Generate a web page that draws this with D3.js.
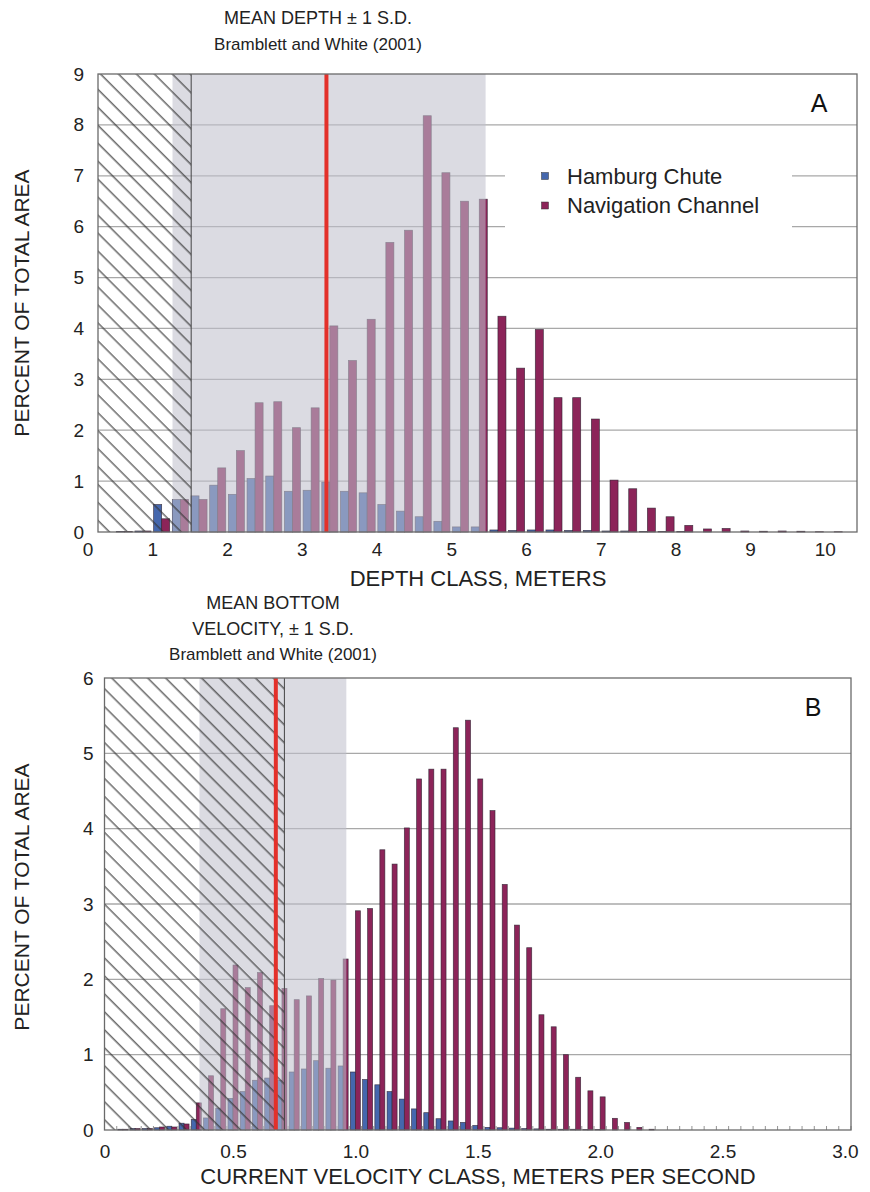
<!DOCTYPE html>
<html>
<head>
<meta charset="utf-8">
<script src="https://cdn.jsdelivr.net/npm/d3@7"></script>
<style>
body { margin: 0; background: #fff; }
svg { display: block; font-family: "Liberation Sans", Arial, sans-serif; }
</style>
</head>
<body>
<script>
// ---- panel A: depth classes, lower edge of each 0.25 m bin ----
const depthClass = [0.5, 0.75, 1.0, 1.25, 1.5, 1.75, 2.0, 2.25, 2.5, 2.75, 3.0, 3.25, 3.5, 3.75,
    4.0, 4.25, 4.5, 4.75, 5.0, 5.25, 5.5, 5.75, 6.0, 6.25, 6.5, 6.75, 7.0, 7.25, 7.5, 7.75,
    8.0, 8.25, 8.5, 8.75, 9.0, 9.25, 9.5, 9.75, 10.0]
const depthHamburg = [0.01, 0.02, 0.54, 0.64, 0.71, 0.92, 0.74, 1.05, 1.10, 0.80, 0.82, 0.98, 0.80, 0.77,
    0.54, 0.41, 0.30, 0.21, 0.10, 0.10, 0.04, 0.03, 0.04, 0.04, 0.03, 0.03, 0.02, 0.02, 0.01, 0.01,
    0.01, 0, 0, 0, 0, 0, 0, 0, 0]
const depthNav = [0.01, 0.02, 0.26, 0.64, 0.64, 1.26, 1.60, 2.54, 2.56, 2.05, 2.44, 4.05, 3.37, 4.18,
    5.69, 5.93, 8.18, 7.06, 6.50, 6.54, 4.24, 3.22, 3.98, 2.64, 2.64, 2.22, 1.02, 0.85, 0.47, 0.30,
    0.13, 0.06, 0.07, 0.02, 0.015, 0.02, 0.015, 0.006, 0.006]
const depthTicks = [0, 1, 2, 3, 4, 5, 6, 7, 8, 9, 10]
const depthRef = [3.33, 1.27, 5.46]   // mean, mean - 1 s.d., mean + 1 s.d.
const depthCutoff = 1.52

// ---- panel B: velocity classes, centre of each 0.05 m/s bin ----
const velClass = [0, 0.05, 0.1, 0.15, 0.2, 0.25, 0.3, 0.35, 0.4, 0.45, 0.5, 0.55, 0.6, 0.65, 0.7,
    0.75, 0.8, 0.85, 0.9, 0.95, 1.0, 1.05, 1.1, 1.15, 1.2, 1.25, 1.3, 1.35, 1.4, 1.45, 1.5,
    1.55, 1.6, 1.65, 1.7, 1.75, 1.8, 1.85, 1.9, 1.95, 2.0, 2.05, 2.1, 2.15, 2.2, 2.25, 2.3,
    2.35, 2.4, 2.45, 2.5, 2.55, 2.6, 2.65, 2.7, 2.75, 2.8, 2.85, 2.9, 2.95, 3.0]
const velHamburg = [0, 0.01, 0.02, 0.02, 0.03, 0.05, 0.09, 0.14, 0.16, 0.29, 0.42, 0.51, 0.66, 0.69, 0.66,
    0.77, 0.81, 0.92, 0.82, 0.85, 0.77, 0.67, 0.60, 0.51, 0.41, 0.28, 0.23, 0.15, 0.12, 0.10, 0.06,
    0.035, 0.03, 0.025, 0.02, 0.015, 0.01, 0.01, 0.01, 0.005, 0.005, 0, 0, 0, 0, 0, 0,
    0, 0, 0, 0, 0, 0, 0, 0, 0, 0, 0, 0, 0, 0]
const velNav = [0, 0.01, 0.02, 0.02, 0.04, 0.04, 0.08, 0.36, 0.72, 1.61, 2.19, 1.89, 2.09, 1.65, 1.88,
    1.73, 1.78, 2.01, 1.99, 2.27, 2.91, 2.94, 3.72, 3.53, 4.01, 4.66, 4.79, 4.79, 5.34, 5.44, 4.66,
    4.24, 3.26, 2.72, 2.42, 1.53, 1.37, 1.00, 0.70, 0.52, 0.44, 0.155, 0.10, 0.035, 0.01, 0, 0,
    0, 0, 0, 0, 0, 0, 0, 0, 0, 0, 0, 0, 0, 0]
const velTicks = [0, 0.5, 1.0, 1.5, 2.0, 2.5, 3.0]
const velRef = [0.675, 0.363, 0.963]
const velCutoff = 0.71

const seriesNames = ['Hamburg Chute', 'Navigation Channel']
const colors = ['#4567ad', '#8c2459']

const svg = d3.select('body').append('svg')
    .attr('width', 870)
    .attr('height', 1192)

// diagonal hatch for the shallow / slow zone
svg.append('defs').append('pattern')
    .attr('id', 'hatch')
    .attr('patternUnits', 'userSpaceOnUse')
    .attr('width', 12.7).attr('height', 12.7)
    .attr('patternTransform', 'rotate(-45)')
    .append('line')
    .attr('x1', 6).attr('y1', 0).attr('x2', 6).attr('y2', 12.7)
    .attr('stroke', '#333').attr('stroke-width', 1.1)

function panel(o) {
    const x = d3.scaleLinear().domain(o.xDomain).range([o.left, o.right])
    const y = d3.scaleLinear().domain([0, o.yMax]).range([o.bottom, o.top])
    const g = svg.append('g')
    const bw = (x(o.step) - x(0)) * o.barFrac

    // gridlines
    g.selectAll('line.grid').data(d3.range(1, o.yMax)).join('line')
        .attr('class', 'grid')
        .attr('x1', o.left).attr('x2', o.right)
        .attr('y1', d => y(d)).attr('y2', d => y(d))
        .attr('stroke', '#a8a8a8').attr('stroke-width', 1.3)

    if (o.legend) {
        g.append('rect').attr('x', 505).attr('y', 140).attr('width', 287).attr('height', 122)
            .attr('fill', '#fff')
    }

    // bars: hamburg chute left of the class centre, navigation channel right
    const rows = o.cats.map((c, i) => ({ c: c + o.shift, v: [o.hamburg[i], o.nav[i]] }))
    ;[0, 1].forEach(s => {
        g.selectAll(`rect.s${s}`).data(rows.filter(d => d.v[s] > 0)).join('rect')
            .attr('class', `s${s}`)
            .attr('x', d => s === 0 ? x(d.c) - bw : x(d.c))
            .attr('width', bw)
            .attr('y', d => y(d.v[s]))
            .attr('height', d => o.bottom - y(d.v[s]))
            .attr('fill', colors[s])
            .attr('stroke', '#2c2030').attr('stroke-width', 0.7).attr('stroke-opacity', 0.8)
    })

    if (o.minorTicks) {
        g.selectAll('line.minor').data(o.cats).join('line')
            .attr('class', 'minor')
            .attr('x1', d => x(d + o.step / 2)).attr('x2', d => x(d + o.step / 2))
            .attr('y1', o.bottom).attr('y2', o.bottom - 4)
            .attr('stroke', '#777').attr('stroke-width', 0.8)
    }

    // mean +/- 1 s.d. band
    g.append('rect')
        .attr('x', x(o.ref[1])).attr('width', x(o.ref[2]) - x(o.ref[1]))
        .attr('y', o.top).attr('height', o.bottom - o.top)
        .attr('fill', 'rgb(192,192,204)').attr('fill-opacity', 0.57)

    // hatched zone
    g.append('rect')
        .attr('x', o.left).attr('width', x(o.cutoff) - o.left)
        .attr('y', o.top).attr('height', o.bottom - o.top)
        .attr('fill', 'url(#hatch)')
    g.append('line')
        .attr('x1', x(o.cutoff)).attr('x2', x(o.cutoff))
        .attr('y1', o.top).attr('y2', o.bottom)
        .attr('stroke', '#444').attr('stroke-width', 1)

    // mean line
    g.append('line')
        .attr('x1', x(o.ref[0])).attr('x2', x(o.ref[0]))
        .attr('y1', o.top).attr('y2', o.bottom)
        .attr('stroke', '#e3302a').attr('stroke-width', 4)

    // frame
    g.append('rect')
        .attr('x', o.left).attr('y', o.top)
        .attr('width', o.right - o.left).attr('height', o.bottom - o.top)
        .attr('fill', 'none').attr('stroke', '#6a6a6a').attr('stroke-width', 1.3)

    // axes
    const yAxis = g.append('g')
        .attr('transform', `translate(${o.left},0)`)
        .call(d3.axisLeft(y).ticks(o.yMax).tickSize(0).tickPadding(o.yPad))
    const xAxis = g.append('g')
        .attr('transform', `translate(0,${o.bottom})`)
        .call(d3.axisBottom(x).tickValues(o.ticks).tickFormat(o.fmt).tickSize(0).tickPadding(o.xPad))
    ;[yAxis, xAxis].forEach(a => {
        a.select('.domain').remove()
        a.selectAll('text').attr('font-size', 19).attr('fill', '#222')
            .attr('font-family', '"Liberation Sans", Arial, sans-serif')
    })
    xAxis.selectAll('text').filter(d => d === 0).attr('dx', o.zeroDx)

    // axis titles
    g.append('text')
        .attr('transform', `translate(29,${o.yTitleY})rotate(-90)`)
        .attr('text-anchor', 'middle')
        .attr('font-size', 21).attr('fill', '#222')
        .text('PERCENT OF TOTAL AREA')
    g.append('text')
        .attr('x', 478).attr('y', o.xTitleY)
        .attr('text-anchor', 'middle')
        .attr('font-size', 22).attr('fill', '#222')
        .text(o.xTitle)

    // reference title above the plot
    g.selectAll('text.ttl').data(o.titleLines).join('text')
        .attr('class', 'ttl')
        .attr('x', o.titleX).attr('y', (d, i) => o.titleY + i * 25.5)
        .attr('text-anchor', 'middle')
        .attr('font-size', 18).attr('fill', '#222')
        .text(d => d)
        .filter(d => d.startsWith('Bramblett'))
        .attr('font-size', 17)

    // panel letter
    g.append('text')
        .attr('x', o.right - 38).attr('y', o.top + 38)
        .attr('text-anchor', 'middle')
        .attr('font-size', 25).attr('fill', '#111')
        .text(o.letter)

    if (o.legend) {
        const lg = g.append('g')
        seriesNames.forEach((name, i) => {
            lg.append('rect')
                .attr('x', 541.5).attr('y', 172.5 + i * 29.5)
                .attr('width', 7).attr('height', 7)
                .attr('fill', colors[i]).attr('stroke', '#333').attr('stroke-width', 0.5)
            lg.append('text')
                .attr('x', 567).attr('y', 183.5 + i * 29.5)
                .attr('font-size', 22).attr('fill', '#222')
                .text(name)
        })
    }
}

panel({
    left: 98, right: 857, top: 74, bottom: 532,
    xDomain: [0.273, 10.43], yMax: 9, step: 0.25, shift: 0.125, barFrac: 0.43,
    cats: depthClass, hamburg: depthHamburg, nav: depthNav,
    ref: depthRef, cutoff: depthCutoff,
    ticks: depthTicks, fmt: d3.format('d'), zeroDx: 10,
    yPad: 14, xPad: 10.5,
    yTitleY: 303, xTitle: 'DEPTH CLASS, METERS', xTitleY: 586,
    titleLines: ['MEAN DEPTH \u00b1 1 S.D.', 'Bramblett and White (2001)'],
    titleX: 318, titleY: 24,
    letter: 'A', legend: true, minorTicks: false
})

panel({
    left: 104.5, right: 851, top: 678, bottom: 1130,
    xDomain: [-0.025, 3.025], yMax: 6, step: 0.05, shift: 0, barFrac: 0.41,
    cats: velClass, hamburg: velHamburg, nav: velNav,
    ref: velRef, cutoff: velCutoff,
    ticks: velTicks, fmt: d => d === 0 ? '0' : d3.format('.1f')(d), zeroDx: -6,
    yPad: 11, xPad: 14.5,
    yTitleY: 897, xTitle: 'CURRENT VELOCITY CLASS, METERS PER SECOND', xTitleY: 1184,
    titleLines: ['MEAN BOTTOM', 'VELOCITY, \u00b1 1 S.D.', 'Bramblett and White (2001)'],
    titleX: 273, titleY: 609,
    letter: 'B', legend: false, minorTicks: true
})
</script>
</body>
</html>
